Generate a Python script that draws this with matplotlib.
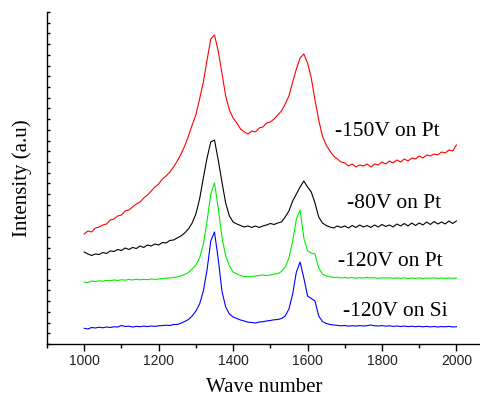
import numpy as np
import matplotlib
matplotlib.use("Agg")
import matplotlib.pyplot as plt
from matplotlib.ticker import MultipleLocator, NullFormatter

# wave numbers shared by all four spectra (step 10)
wave = np.arange(1000, 2001, 10)

# intensities (a.u)
blue_si = [15.7, 15, 16.5, 16, 16.8, 16.2, 17, 16.5, 17.2, 17,
           18.5, 17.5, 17.8, 17, 17.6, 17.3, 17.9, 17.4, 18, 17.6,
           18.2, 18.4, 18.8, 18.5, 19.5, 19.5, 20.8, 22.5, 24.5, 28,
           33, 40, 53, 74, 103, 112, 85, 53, 37, 30,
           27, 25.5, 24, 23, 21.8, 21.5, 21, 22, 22.3, 23,
           23.5, 24.2, 24.5, 25.5, 28, 35, 50, 72, 82, 66,
           48, 45.5, 43, 28, 22.5, 20.5, 19.5, 19, 18.6, 18.2,
           18.5, 17.8, 18.3, 17.9, 18.4, 18, 18.3, 19, 18.2, 18,
           18.4, 17.8, 18.2, 17.6, 18, 17.5, 17.9, 17.4, 17.8, 17.3,
           17.7, 17.2, 17.6, 17.1, 17.5, 17, 17.4, 17.2, 17.6, 17, 17.3]

green_pt120 = [62, 61.5, 63, 62.5, 63.2, 62.8, 63.6, 63.2, 64, 63.5,
               64.2, 63.8, 64.5, 64, 64.8, 64.2, 64.6, 64.3, 65, 64.6,
               65, 65.4, 65.8, 66, 66.5, 67, 68, 69.5, 71.5, 75,
               79, 86, 100, 123, 150, 161, 136, 107, 88, 78,
               72, 70, 68.5, 67.5, 67.2, 67.5, 68, 68.5, 69, 68.5,
               69, 69.8, 70.5, 72.5, 77, 86, 103, 125, 134, 106,
               93, 91, 90, 76, 70, 68, 67.2, 66.5, 66.8, 66,
               66.5, 66, 66.4, 65.8, 66.3, 66, 66.5, 66, 66.4, 65.7,
               66.2, 65.8, 66.3, 65.6, 66.1, 65.7, 66.2, 65.5, 66, 65.6,
               66.1, 65.5, 66, 65.7, 66.2, 65.6, 66, 65.5, 66.1, 65.6, 66]

black_pt80 = [92, 90, 88.5, 90, 89.5, 91.5, 90.5, 93, 92.5, 94.5,
              93.5, 96, 94.5, 96.5, 95.5, 98, 96.5, 99, 98, 100,
              99, 101.5, 101, 103.5, 104, 106, 108, 111, 115, 121,
              130, 145, 166, 186, 202, 204, 184, 162, 141, 128,
              122, 120, 118.5, 117, 118, 116.5, 118, 116.5, 118, 119,
              120.5, 119.5, 121, 122, 127, 133, 143, 150, 157, 163,
              157, 152, 141, 127, 121, 118.5, 117, 116, 118, 116.5,
              118, 116, 118.5, 116.5, 119, 117, 118.5, 116.5, 119, 117,
              119.5, 117.5, 119, 117, 120, 118, 120.5, 118, 121, 118.5,
              121, 119, 122, 119.5, 122.5, 120, 122, 120, 123, 120.5, 123]

red_pt150 = [110, 113, 112, 116, 117, 119, 120, 124, 125, 128,
             129, 133, 134, 137, 140, 142, 146, 149, 153, 157,
             160, 165, 168, 172, 177, 183, 190, 198, 208, 219,
             229, 245, 262, 284, 305, 309, 293, 271, 248, 234,
             226, 221, 215, 212, 210, 213, 212, 216, 217, 221,
             222, 225, 229, 233, 240, 248, 262, 275, 286, 290,
             281, 266, 244, 224, 208, 199, 193, 188, 185, 182,
             181, 178, 180, 177, 179, 178, 180, 177, 180, 179,
             182, 180, 183, 181, 184, 182, 185, 183, 186, 185,
             188, 186, 189, 188, 190, 189, 192, 191, 194, 193, 199]

labels = ["-150V on Pt", "-80V on Pt", "-120V on Pt", "-120V on Si"]
label_x = [1674, 1706, 1682, 1696]
label_y = [212, 140, 82, 32]

fig = plt.figure(figsize=(4.81, 3.98), dpi=100)
ax = fig.add_axes([0.0977, 0.1357, 0.9023, 0.8342])

ax.plot(wave, blue_si, color="#0000ff", lw=0.8)
ax.plot(wave, green_pt120, color="#00ee00", lw=0.8)
ax.plot(wave, black_pt80, color="black", lw=0.8)
ax.plot(wave, red_pt150, color="#ff0000", lw=0.8)

for txt, tx, ty in zip(labels, label_x, label_y):
    ax.text(tx, ty, txt, family="Liberation Serif", fontsize=15.5,
            ha="left", va="center")

ax.set_xlim(900, 2066)
ax.set_ylim(0, 332)

ax.spines["top"].set_visible(False)
ax.spines["right"].set_visible(False)
ax.spines["left"].set_linewidth(1.0)
ax.spines["bottom"].set_linewidth(1.0)

ax.xaxis.set_major_locator(MultipleLocator(200))
ax.xaxis.set_minor_locator(MultipleLocator(100))
ax.tick_params(axis="x", which="major", direction="out", length=5, width=1,
               pad=2.5, labelsize=10, labelcolor="#222222")
ax.tick_params(axis="x", which="minor", direction="out", length=3, width=1)
for lab in ax.get_xticklabels():
    lab.set_family("Liberation Sans")

ax.yaxis.set_major_locator(MultipleLocator(332 / 31))
ax.yaxis.set_major_formatter(NullFormatter())
ax.tick_params(axis="y", which="major", direction="in", length=2.5, width=1)

ax.set_xlabel("Wave number", family="Liberation Serif", fontsize=15, labelpad=7)
ax.set_ylabel("Intensity (a.u)", family="Liberation Serif", fontsize=15, labelpad=7)

fig.savefig("out.png", dpi=100)
